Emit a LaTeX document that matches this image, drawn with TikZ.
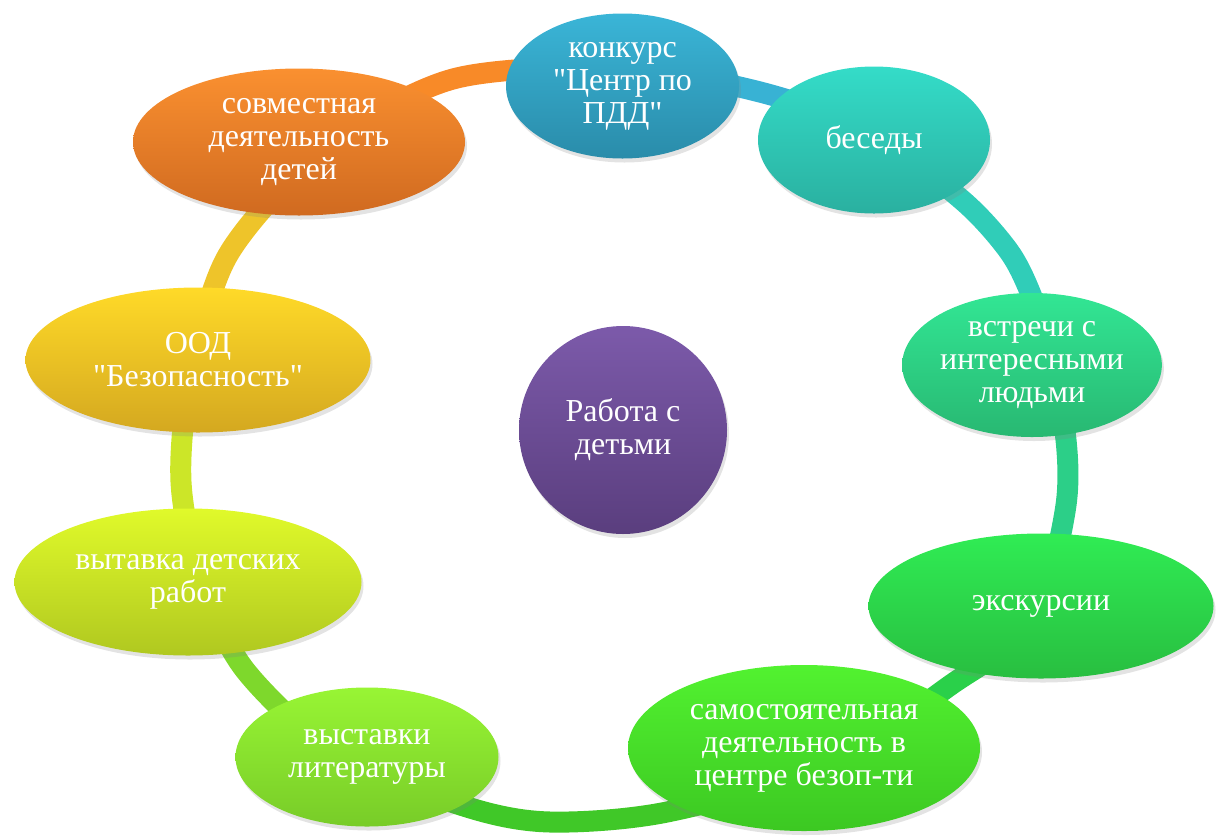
\documentclass[tikz,border=0pt]{standalone}
\usepackage{fontspec}
\setmainfont{Liberation Serif}[Ligatures=TeXOff]
\usetikzlibrary{shapes.geometric,shadows,calc}
\definecolor{rk}{HTML}{38B2D4}
\definecolor{rb}{HTML}{30CDB8}
\definecolor{rv}{HTML}{2CCF88}
\definecolor{re}{HTML}{2AD04A}
\definecolor{rs}{HTML}{40C828}
\definecolor{rl}{HTML}{7ED82C}
\definecolor{rd}{HTML}{CCE628}
\definecolor{ro}{HTML}{EEC42A}
\definecolor{rj}{HTML}{F88A28}
\newcommand\qt{{\char34}}
\newcommand\ringcurve[1]{\draw[ringline,#1] plot[smooth cycle] coordinates {(620,68) (760,92) (870,132) (962,200) (1008,250) (1030,292) (1050,352) (1066,440) (1066,505) (1045,590) (1000,650) (955,682) (830,765) (667,812) (550,822) (467,807) (340,757) (245,670) (200,578) (181,482) (190,380) (228,255) (325,148) (453,79)};}
\begin{document}
\begin{tikzpicture}[x=1pt,y=-1pt,
  ringline/.style={line width=21pt},
  bub/.style={ellipse, inner sep=0pt, align=center, text=white,
    font=\fontsize{32}{33}\selectfont,
    drop shadow={shadow xshift=2pt, shadow yshift=-4pt, opacity=0.22}},
]
\useasboundingbox (0,0) rectangle (1217,836);
\coordinate (c) at (624,445);
\coordinate (pk) at (622.5,86);
\coordinate (pb) at (874,140);
\coordinate (pv) at (1032,365);
\coordinate (pe) at (1041,606);
\coordinate (ps) at (804,748);
\coordinate (pl) at (367,757);
\coordinate (pd) at (188,582);
\coordinate (po) at (198,360);
\coordinate (pj) at (299,142);
% ring segments
\foreach \a/\b/\col in {pk/pb/rk, pb/pv/rb, pv/pe/rv, pe/ps/re, ps/pl/rs, pl/pd/rl, pd/po/rd, po/pj/ro, pj/pk/rj}{
  \begin{scope}
    \clip (c) -- ($(c)!3!(\a)$) -- ($(c)!3!(\b)$) -- cycle;
    \ringcurve{\col}
  \end{scope}
}
% nodes
\node[bub, minimum width=233pt, minimum height=145pt, top color={rgb,255:red,58;green,181;blue,215}, bottom color={rgb,255:red,42;green,140;blue,170}] (k) at (pk) {конкурс\\\qt Центр по\\ПДД\qt};
\node[bub, minimum width=232pt, minimum height=147pt, top color={rgb,255:red,52;green,220;blue,200}, bottom color={rgb,255:red,42;green,176;blue,160}] (b) at (pb) {беседы};
\node[bub, minimum width=246pt, minimum height=144pt, top color={rgb,255:red,50;green,230;blue,148}, bottom color={rgb,255:red,40;green,184;blue,114}] (v) at (pv) {встречи с\\интересными\\людьми};
\node[bub, minimum width=345pt, minimum height=145pt, top color={rgb,255:red,48;green,236;blue,84}, bottom color={rgb,255:red,40;green,190;blue,64}] (e) at (pe) {экскурсии};
\node[bub, minimum width=352pt, minimum height=166pt, top color={rgb,255:red,82;green,242;blue,48}, bottom color={rgb,255:red,60;green,200;blue,34}] (s) at (ps) {самостоятельная\\деятельность в\\центре безоп-ти};
\node[bub, minimum width=263pt, minimum height=139pt, top color={rgb,255:red,152;green,245;blue,52}, bottom color={rgb,255:red,120;green,204;blue,40}] (l) at (pl) {выставки\\литературы};
\node[bub, minimum width=347pt, minimum height=147pt, top color={rgb,255:red,224;green,250;blue,42}, bottom color={rgb,255:red,176;green,200;blue,32}] (d) at (pd) {вытавка детских\\работ};
\node[bub, minimum width=345pt, minimum height=145pt, top color={rgb,255:red,255;green,218;blue,40}, bottom color={rgb,255:red,212;green,168;blue,32}] (o) at (po) {ООД\\\qt Безопасность\qt};
\node[bub, minimum width=332pt, minimum height=147pt, top color={rgb,255:red,250;green,144;blue,48}, bottom color={rgb,255:red,208;green,106;blue,32}] (j) at (pj) {совместная\\деятельность\\детей};
\node[bub, circle, minimum size=208pt, top color={rgb,255:red,124;green,90;blue,170}, bottom color={rgb,255:red,90;green,62;blue,126}] (m) at (623,430) {Работа с\\детьми};
\end{tikzpicture}
\end{document}
